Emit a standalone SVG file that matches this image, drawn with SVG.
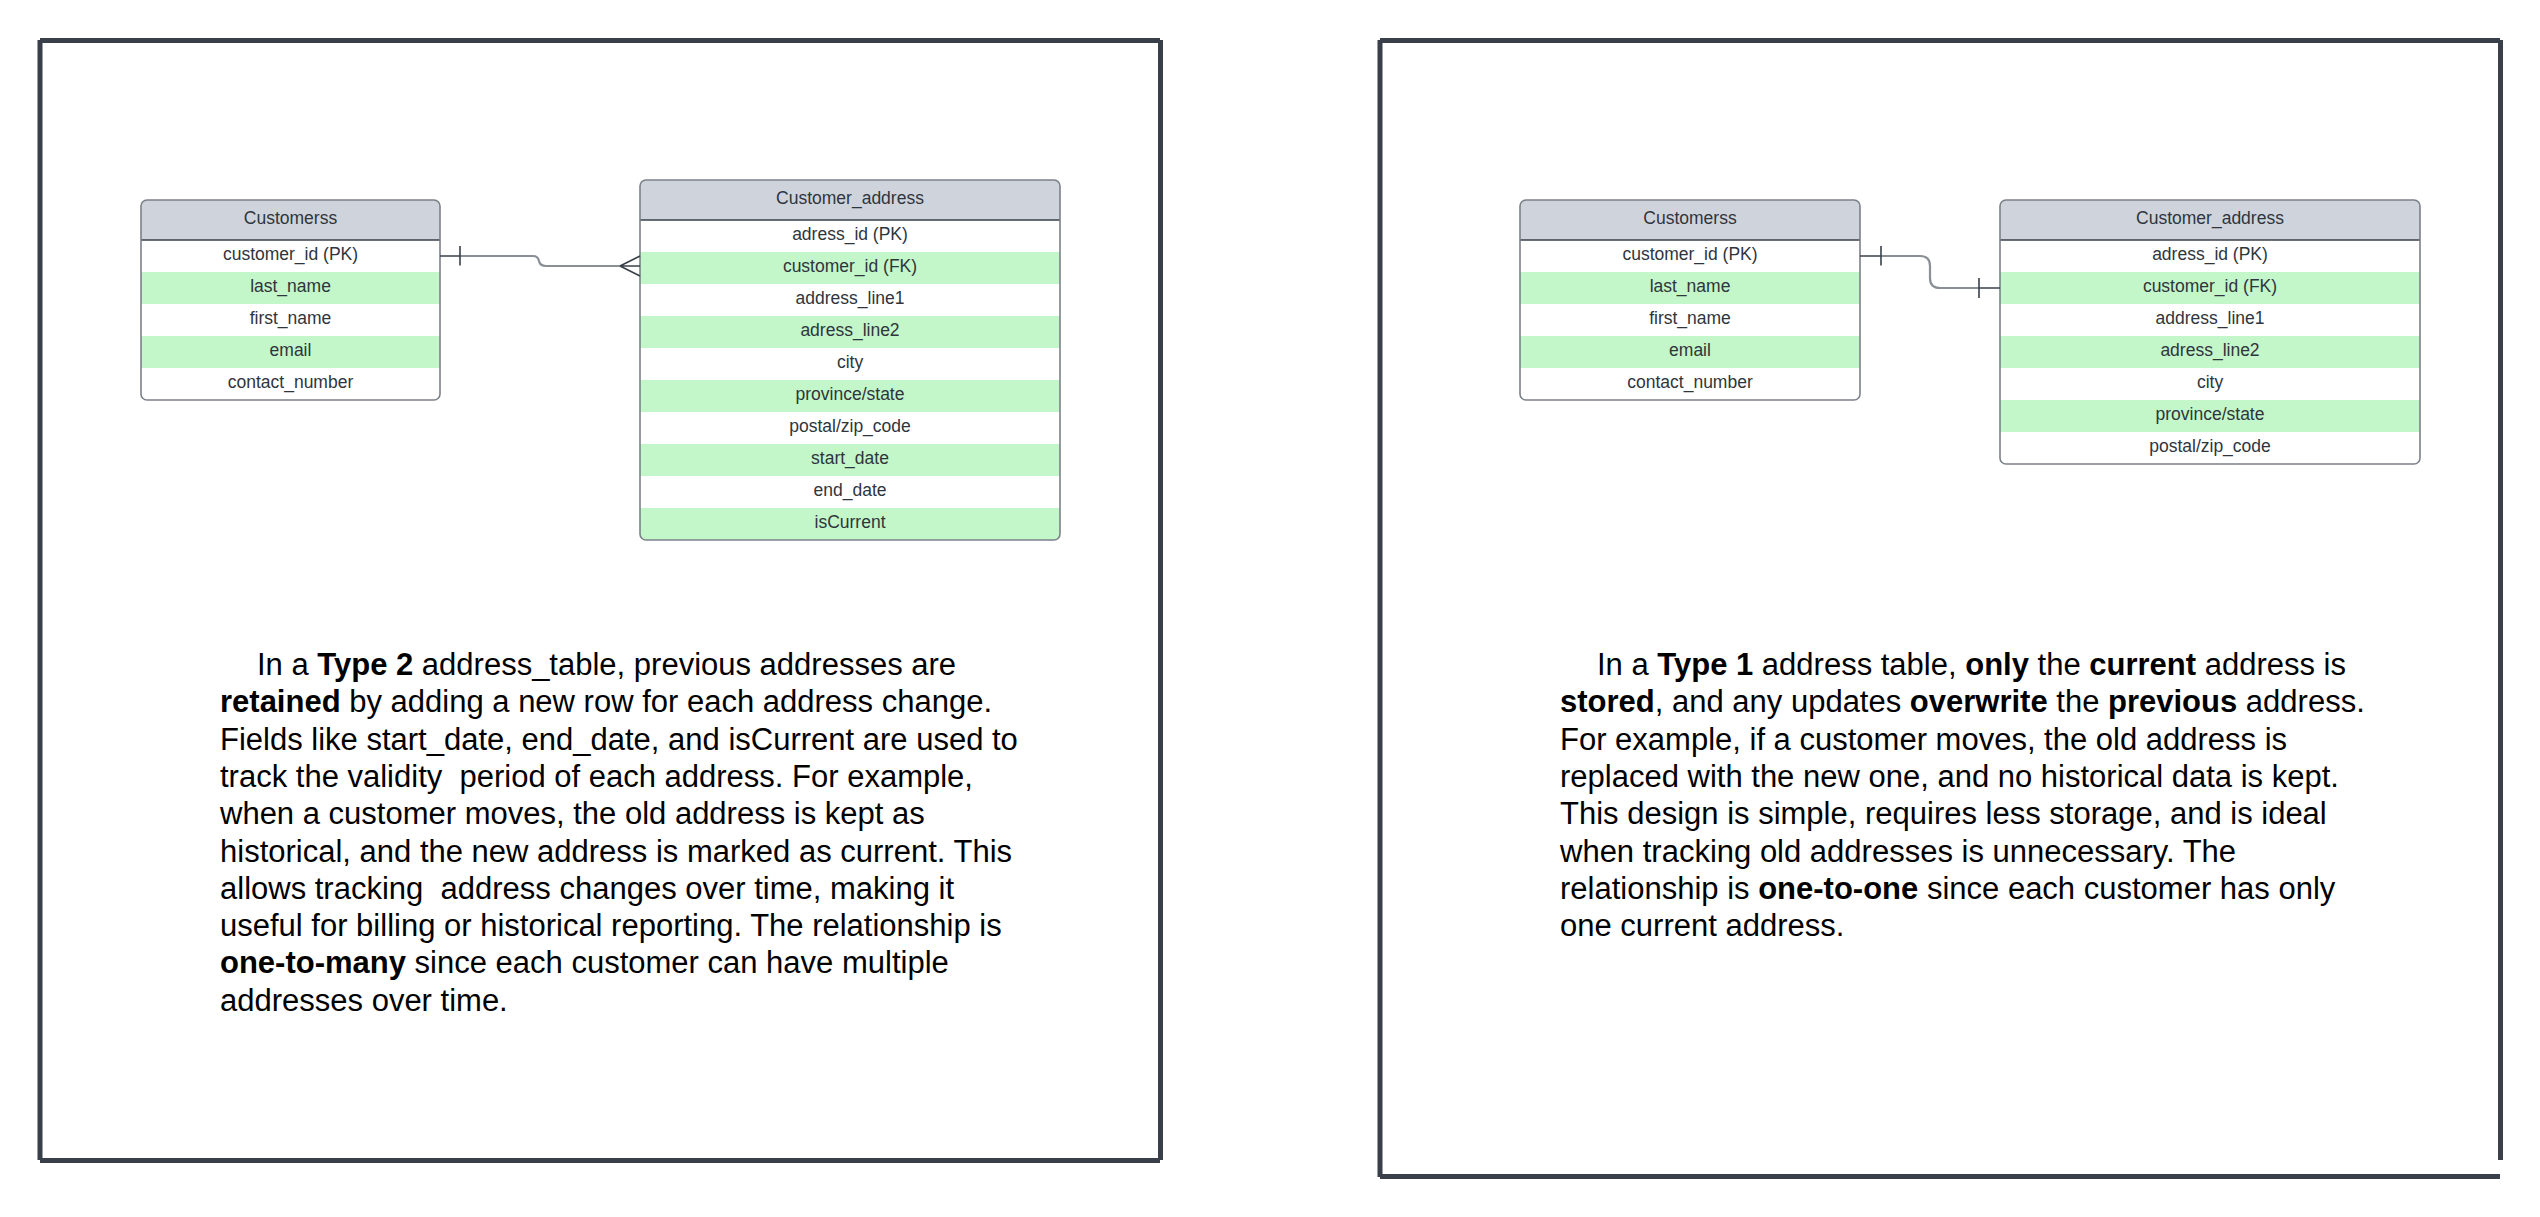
<svg xmlns="http://www.w3.org/2000/svg" width="2540" height="1217" viewBox="0 0 2540 1217">
<style>
.frame{stroke:#39404a;stroke-width:5;fill:none;stroke-linecap:butt}
.hdr{fill:#cfd4dc}
.g{fill:#c3f6c8}
.w{fill:#ffffff}
.bd{fill:none;stroke:#7c8189;stroke-width:1.6}
.sep{stroke:#3a414a;stroke-width:1.6}
.ft{font-family:"Liberation Sans",Arial,sans-serif;font-size:17.5px;fill:#2f353d;text-anchor:middle}
.para{font-family:"Liberation Sans",Arial,sans-serif;font-size:31px;fill:#000;white-space:pre}
.b{font-weight:bold}
.conn{fill:none;stroke:#8a8f96;stroke-width:2.2}
.mk{fill:none;stroke:#3a414a;stroke-width:1.6}
</style>
<defs>
<clipPath id="c1"><rect x="141" y="200" width="299" height="200" rx="6"/></clipPath>
<clipPath id="c2"><rect x="640" y="180" width="420" height="360" rx="6"/></clipPath>
<clipPath id="c3"><rect x="1520" y="200" width="340" height="200" rx="6"/></clipPath>
<clipPath id="c4"><rect x="2000" y="200" width="420" height="264" rx="6"/></clipPath>
</defs>
<rect width="2540" height="1217" fill="#ffffff"/>

<g id="frame-left">
<line class="frame" x1="40" y1="40.5" x2="1160" y2="40.5"/>
<line class="frame" x1="1160.5" y1="40" x2="1160.5" y2="1160"/>
<line class="frame" x1="40" y1="1160.5" x2="1160" y2="1160.5"/>
<line class="frame" x1="40" y1="40" x2="40" y2="1160"/>
</g>
<g id="frame-right">
<line class="frame" x1="1380" y1="40.5" x2="2500" y2="40.5"/>
<line class="frame" x1="2500.5" y1="40" x2="2500.5" y2="1160"/>
<line class="frame" x1="1380" y1="1176.5" x2="2500" y2="1176.5"/>
<line class="frame" x1="1380" y1="40" x2="1380" y2="1177"/>
</g>

<g id="customers-left">
<g clip-path="url(#c1)">
<rect class="hdr" x="141" y="200" width="299" height="40"/>
<rect class="w" x="141" y="240" width="299" height="32"/>
<rect class="g" x="141" y="272" width="299" height="32"/>
<rect class="w" x="141" y="304" width="299" height="32"/>
<rect class="g" x="141" y="336" width="299" height="32"/>
<rect class="w" x="141" y="368" width="299" height="32"/>
</g>
<line class="sep" x1="141" y1="240" x2="440" y2="240"/>
<rect class="bd" x="141" y="200" width="299" height="200" rx="6"/>
<text class="ft" x="290.5" y="224">Customerss</text>
<text class="ft" x="290.5" y="260">customer_id (PK)</text>
<text class="ft" x="290.5" y="292">last_name</text>
<text class="ft" x="290.5" y="324">first_name</text>
<text class="ft" x="290.5" y="356">email</text>
<text class="ft" x="290.5" y="388">contact_number</text>
</g>

<g id="address-left">
<g clip-path="url(#c2)">
<rect class="hdr" x="640" y="180" width="420" height="40"/>
<rect class="w" x="640" y="220" width="420" height="32"/>
<rect class="g" x="640" y="252" width="420" height="32"/>
<rect class="w" x="640" y="284" width="420" height="32"/>
<rect class="g" x="640" y="316" width="420" height="32"/>
<rect class="w" x="640" y="348" width="420" height="32"/>
<rect class="g" x="640" y="380" width="420" height="32"/>
<rect class="w" x="640" y="412" width="420" height="32"/>
<rect class="g" x="640" y="444" width="420" height="32"/>
<rect class="w" x="640" y="476" width="420" height="32"/>
<rect class="g" x="640" y="508" width="420" height="32"/>
</g>
<line class="sep" x1="640" y1="220" x2="1060" y2="220"/>
<rect class="bd" x="640" y="180" width="420" height="360" rx="6"/>
<text class="ft" x="850" y="204">Customer_address</text>
<text class="ft" x="850" y="240">adress_id (PK)</text>
<text class="ft" x="850" y="272">customer_id (FK)</text>
<text class="ft" x="850" y="304">address_line1</text>
<text class="ft" x="850" y="336">adress_line2</text>
<text class="ft" x="850" y="368">city</text>
<text class="ft" x="850" y="400">province/state</text>
<text class="ft" x="850" y="432">postal/zip_code</text>
<text class="ft" x="850" y="464">start_date</text>
<text class="ft" x="850" y="496">end_date</text>
<text class="ft" x="850" y="528">isCurrent</text>
</g>

<g id="customers-right">
<g clip-path="url(#c3)">
<rect class="hdr" x="1520" y="200" width="340" height="40"/>
<rect class="w" x="1520" y="240" width="340" height="32"/>
<rect class="g" x="1520" y="272" width="340" height="32"/>
<rect class="w" x="1520" y="304" width="340" height="32"/>
<rect class="g" x="1520" y="336" width="340" height="32"/>
<rect class="w" x="1520" y="368" width="340" height="32"/>
</g>
<line class="sep" x1="1520" y1="240" x2="1860" y2="240"/>
<rect class="bd" x="1520" y="200" width="340" height="200" rx="6"/>
<text class="ft" x="1690" y="224">Customerss</text>
<text class="ft" x="1690" y="260">customer_id (PK)</text>
<text class="ft" x="1690" y="292">last_name</text>
<text class="ft" x="1690" y="324">first_name</text>
<text class="ft" x="1690" y="356">email</text>
<text class="ft" x="1690" y="388">contact_number</text>
</g>

<g id="address-right">
<g clip-path="url(#c4)">
<rect class="hdr" x="2000" y="200" width="420" height="40"/>
<rect class="w" x="2000" y="240" width="420" height="32"/>
<rect class="g" x="2000" y="272" width="420" height="32"/>
<rect class="w" x="2000" y="304" width="420" height="32"/>
<rect class="g" x="2000" y="336" width="420" height="32"/>
<rect class="w" x="2000" y="368" width="420" height="32"/>
<rect class="g" x="2000" y="400" width="420" height="32"/>
<rect class="w" x="2000" y="432" width="420" height="32"/>
</g>
<line class="sep" x1="2000" y1="240" x2="2420" y2="240"/>
<rect class="bd" x="2000" y="200" width="420" height="264" rx="6"/>
<text class="ft" x="2210" y="224">Customer_address</text>
<text class="ft" x="2210" y="260">adress_id (PK)</text>
<text class="ft" x="2210" y="292">customer_id (FK)</text>
<text class="ft" x="2210" y="324">address_line1</text>
<text class="ft" x="2210" y="356">adress_line2</text>
<text class="ft" x="2210" y="388">city</text>
<text class="ft" x="2210" y="420">province/state</text>
<text class="ft" x="2210" y="452">postal/zip_code</text>
</g>

<g id="connectors">
<path class="conn" d="M460,256 H533 Q538,256 539,261 Q540,266 546,266 H620"/>
<path class="mk" d="M440,256 H460 M460,246 V265.5 M620,266 H640 M620,266 L640,256 M620,266 L640,276"/>
<path class="conn" d="M1881,256 H1920 Q1930,256 1930,266 V278 Q1930,288 1940,288 H1979"/>
<path class="mk" d="M1860,256 H1881 M1881,246 V265.5 M1979,288 H2000 M1979,278 V298"/>
</g>

<g id="text-left">
<text class="para" x="257" y="675">In a <tspan class="b">Type 2</tspan> address_table, previous addresses are</text>
<text class="para" x="220" y="712.3"><tspan class="b">retained</tspan> by adding a new row for each address change.</text>
<text class="para" x="220" y="749.6">Fields like start_date, end_date, and isCurrent are used to</text>
<text class="para" x="220" y="786.9">track the validity  period of each address. For example,</text>
<text class="para" x="220" y="824.2">when a customer moves, the old address is kept as</text>
<text class="para" x="220" y="861.5">historical, and the new address is marked as current. This</text>
<text class="para" x="220" y="898.8">allows tracking  address changes over time, making it</text>
<text class="para" x="220" y="936.1">useful for billing or historical reporting. The relationship is</text>
<text class="para" x="220" y="973.4"><tspan class="b">one-to-many</tspan> since each customer can have multiple</text>
<text class="para" x="220" y="1010.7">addresses over time.</text>
</g>

<g id="text-right">
<text class="para" x="1597" y="675">In a <tspan class="b">Type 1</tspan> address table, <tspan class="b">only</tspan> the <tspan class="b">current</tspan> address is</text>
<text class="para" x="1560" y="712.3"><tspan class="b">stored</tspan>, and any updates <tspan class="b">overwrite</tspan> the <tspan class="b">previous</tspan> address.</text>
<text class="para" x="1560" y="749.6">For example, if a customer moves, the old address is</text>
<text class="para" x="1560" y="786.9">replaced with the new one, and no historical data is kept.</text>
<text class="para" x="1560" y="824.2">This design is simple, requires less storage, and is ideal</text>
<text class="para" x="1560" y="861.5">when tracking old addresses is unnecessary. The</text>
<text class="para" x="1560" y="898.8">relationship is <tspan class="b">one-to-one</tspan> since each customer has only</text>
<text class="para" x="1560" y="936.1">one current address.</text>
</g>
</svg>
